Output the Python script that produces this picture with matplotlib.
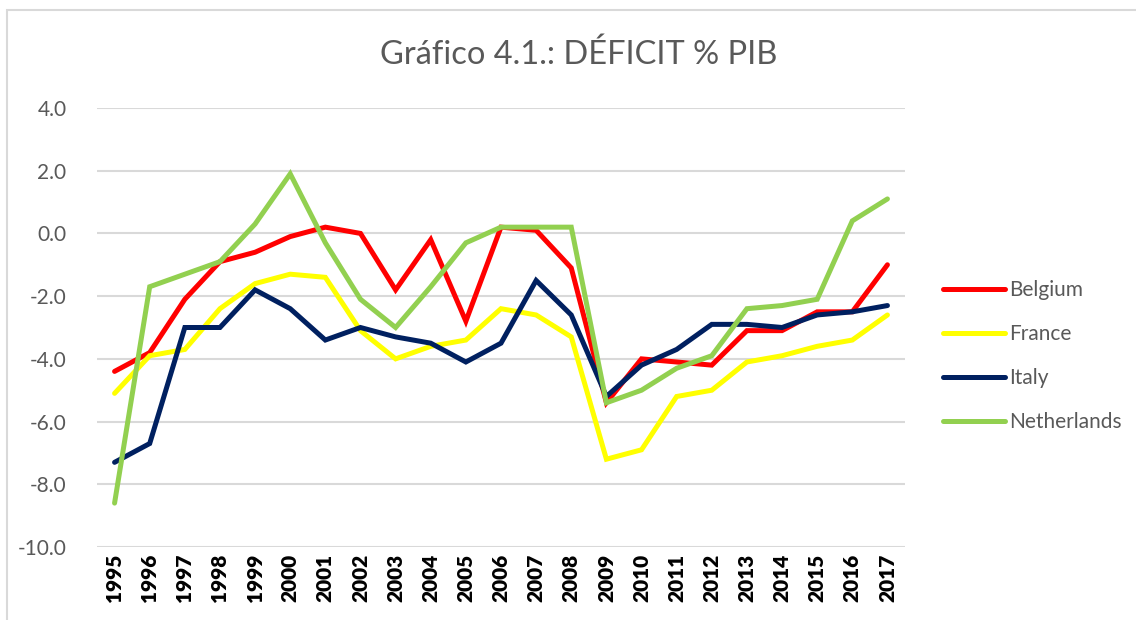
import matplotlib
matplotlib.use("Agg")
import matplotlib.pyplot as plt
from matplotlib.patches import Rectangle

years = [str(y) for y in range(1995, 2018)]
belgium = [-4.4, -3.8, -2.1, -0.9, -0.6, -0.1, 0.2, 0.0, -1.8, -0.2, -2.8, 0.2,
           0.1, -1.1, -5.4, -4.0, -4.1, -4.2, -3.1, -3.1, -2.5, -2.5, -1.0]
france = [-5.1, -3.9, -3.7, -2.4, -1.6, -1.3, -1.4, -3.1, -4.0, -3.6, -3.4, -2.4,
          -2.6, -3.3, -7.2, -6.9, -5.2, -5.0, -4.1, -3.9, -3.6, -3.4, -2.6]
italy = [-7.3, -6.7, -3.0, -3.0, -1.8, -2.4, -3.4, -3.0, -3.3, -3.5, -4.1, -3.5,
         -1.5, -2.6, -5.2, -4.2, -3.7, -2.9, -2.9, -3.0, -2.6, -2.5, -2.3]
netherlands = [-8.6, -1.7, -1.3, -0.9, 0.3, 1.9, -0.3, -2.1, -3.0, -1.7, -0.3, 0.2,
               0.2, 0.2, -5.4, -5.0, -4.3, -3.9, -2.4, -2.3, -2.1, 0.4, 1.1]

series = [("Belgium", belgium, "#FF0000"),
          ("France", france, "#FFFF00"),
          ("Italy", italy, "#002060"),
          ("Netherlands", netherlands, "#92D050")]

plt.rcParams['font.family'] = ['Lato', 'DejaVu Sans']

fig = plt.figure(figsize=(11.36, 6.2), dpi=100)
ax = fig.add_axes([97/1136, 1 - 547/620, 808/1136, 439/620])

# outer chart border
fig.patches.append(Rectangle((7/1136, -0.05), 1.2, 1 - 10/620 + 0.05, transform=fig.transFigure,
                             fill=False, edgecolor="#D9D9D9", linewidth=1.5))

x = list(range(len(years)))
for name, vals, col in series:
    ax.plot(x, vals, color=col, linewidth=3.6, label=name, solid_capstyle="round",
            solid_joinstyle="miter")

ax.set_xlim(-0.5, len(years) - 0.5)
ax.set_ylim(-10, 4)
ax.set_yticks([4, 2, 0, -2, -4, -6, -8, -10])
ax.set_yticklabels([f"{v:.1f}" for v in [4, 2, 0, -2, -4, -6, -8, -10]])
ax.set_xticks(x)
ax.set_xticklabels(years, rotation=90, fontweight="heavy", fontsize=15, color="black")
ax.grid(axis="y", color="#D9D9D9", linewidth=1.5)
ax.set_axisbelow(True)
for s in ax.spines.values():
    s.set_visible(False)
ax.tick_params(axis="both", length=0)
ax.tick_params(axis="y", labelsize=15, labelcolor="#595959", pad=22)
ax.tick_params(axis="x", pad=5)

fig.text(579/1136, 1 - 55/620, "Gráfico 4.1.: DÉFICIT % PIB", ha="center", va="center",
         fontsize=23.5, color="#595959")

fig.legend(loc="center left", bbox_to_anchor=(928/1136, 1 - 356/620), frameon=False,
           fontsize=15, labelcolor="#595959", handlelength=3.0, handletextpad=0.2,
           labelspacing=1.15, borderpad=0.2)

fig.savefig("out.png", dpi=100)
